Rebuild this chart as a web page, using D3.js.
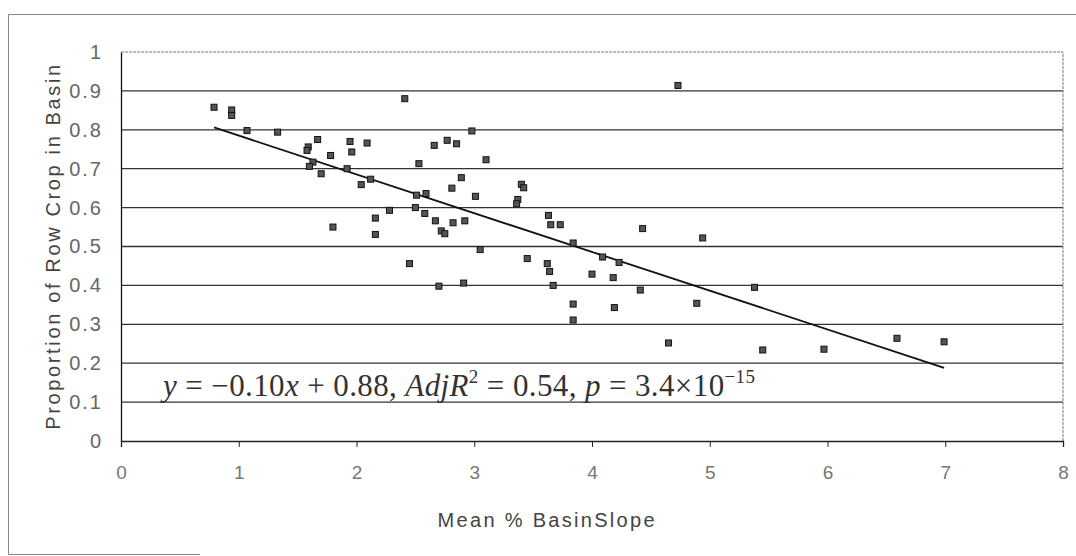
<!DOCTYPE html>
<html>
<head>
<meta charset="utf-8">
<script src="https://cdn.jsdelivr.net/npm/d3@7"></script>
<style>
  body { margin: 0; background: #fff; }
  .tick text { font-family: Arial, "Liberation Sans", sans-serif; }
</style>
</head>
<body>
<div id="graph-container"></div>
<script>
// basin slope vs row crop proportion
var slopeX = [0.79, 0.94, 0.94, 1.07, 1.33, 1.67, 1.59, 1.58, 1.78, 1.63, 1.60, 1.70, 1.92,
  1.945, 2.09, 1.96, 2.66, 2.77, 2.85, 2.53, 3.10, 2.89, 2.04, 2.12, 2.81, 3.40, 3.42,
  3.01, 2.51, 2.59, 3.37, 3.36, 2.28, 2.50, 2.58, 1.80, 2.16, 2.16, 2.67, 2.82, 2.92,
  2.72, 2.75, 3.63, 3.65, 3.73, 3.84, 3.05, 2.45, 3.45, 3.62, 3.64, 2.41, 2.98, 4.73,
  4.43, 4.94, 4.09, 4.23, 4.00, 4.18, 2.91, 3.67, 4.41, 5.38, 3.84, 4.19, 4.89, 3.84,
  4.65, 5.45, 6.59, 6.99, 5.97, 2.70];
var cropY = [0.858, 0.851, 0.837, 0.798, 0.794, 0.775, 0.756, 0.747, 0.734, 0.717, 0.706, 0.687, 0.700,
  0.770, 0.766, 0.743, 0.760, 0.773, 0.764, 0.713, 0.723, 0.677, 0.659, 0.673, 0.650, 0.660, 0.651,
  0.629, 0.632, 0.636, 0.621, 0.610, 0.593, 0.600, 0.585, 0.550, 0.573, 0.531, 0.566, 0.561, 0.566,
  0.540, 0.533, 0.580, 0.556, 0.556, 0.509, 0.492, 0.456, 0.469, 0.456, 0.436, 0.880, 0.797, 0.914,
  0.546, 0.522, 0.473, 0.459, 0.429, 0.420, 0.406, 0.400, 0.388, 0.395, 0.352, 0.343, 0.354, 0.311,
  0.252, 0.234, 0.264, 0.255, 0.236, 0.398];

// fitted line end points
var trendX = [0.79, 6.99];
var trendY = [0.806, 0.188];

var xTicks = [0, 1, 2, 3, 4, 5, 6, 7, 8];
var yTicks = [0, 0.1, 0.2, 0.3, 0.4, 0.5, 0.6, 0.7, 0.8, 0.9, 1];

var svg, x, y, width, height, margin;

function setupConfig() {
  margin = {top: 52, right: 13, bottom: 115, left: 121};
  width = 1076 - margin.left - margin.right;
  height = 556 - margin.top - margin.bottom;

  x = d3.scaleLinear().domain([0, 8]).range([0, width]);
  y = d3.scaleLinear().domain([0, 1]).range([height, 0]);

  var root = d3.select("#graph-container").append("svg")
    .attr("width", 1076)
    .attr("height", 556);

  // outer chart frame
  root.append("path")
    .attr("d", "M1076,14.5 H8.5 V554.5 H200")
    .attr("fill", "none")
    .attr("stroke", "#888")
    .attr("stroke-width", 1);

  svg = root.append("g")
    .attr("transform", "translate(" + margin.left + "," + margin.top + ")");
}

function draw() {
  // horizontal gridlines
  svg.append("g")
    .selectAll("line")
    .data(yTicks.filter(function(d) { return d > 0 && d < 1; }))
    .enter().append("line")
    .attr("x1", 0).attr("x2", width)
    .attr("y1", function(d) { return y(d); })
    .attr("y2", function(d) { return y(d); })
    .attr("stroke", "#333")
    .attr("stroke-width", 1.3);

  // top and right edge of plot area
  svg.append("path")
    .attr("d", "M0," + y(1) + " H" + width + " V" + y(0))
    .attr("fill", "none")
    .attr("stroke", "#777")
    .attr("stroke-width", 1)
    .attr("stroke-dasharray", "3,1");

  // x axis
  var xAxis = svg.append("g")
    .attr("transform", "translate(0," + height + ")")
    .call(d3.axisBottom(x).tickValues(xTicks).tickSize(6).tickPadding(19).tickFormat(d3.format("d")));
  xAxis.select(".domain").attr("stroke", "#222").attr("stroke-width", 1.3);
  xAxis.selectAll(".tick line").attr("stroke", "#222");
  xAxis.selectAll(".tick text").attr("font-size", 19).attr("fill", "#777");

  // y axis
  var yAxis = svg.append("g")
    .call(d3.axisLeft(y).tickValues(yTicks).tickSize(0).tickPadding(18).tickFormat(function(d) { return d3.format("")(d); }));
  yAxis.select(".domain").attr("stroke", "#111").attr("stroke-width", 1.3);
  yAxis.selectAll(".tick text").attr("font-size", 20).attr("fill", "#666")
    .attr("letter-spacing", 2);

  // axis titles
  svg.append("text")
    .attr("x", x(3.61))
    .attr("y", height + 86)
    .attr("text-anchor", "middle")
    .attr("font-family", "Arial, 'Liberation Sans', sans-serif")
    .attr("font-size", 20)
    .attr("fill", "#444")
    .attr("textLength", 217)
    .attr("lengthAdjust", "spacing")
    .text("Mean % BasinSlope");

  svg.append("text")
    .attr("transform", "translate(-61," + y(0.498) + ") rotate(-90)")
    .attr("text-anchor", "middle")
    .attr("font-family", "Arial, 'Liberation Sans', sans-serif")
    .attr("font-size", 20)
    .attr("fill", "#444")
    .attr("textLength", 365)
    .attr("lengthAdjust", "spacing")
    .text("Proportion of Row Crop in Basin");

  // regression line
  var trend = trendX.map(function(d, i) { return {x: d, y: trendY[i]}; });
  svg.append("path")
    .datum(trend)
    .attr("fill", "none")
    .attr("stroke", "#111")
    .attr("stroke-width", 1.8)
    .attr("d", d3.line().x(function(d) { return x(d.x); }).y(function(d) { return y(d.y); }));

  // points
  var pts = slopeX.map(function(d, i) { return {x: d, y: cropY[i]}; });
  svg.append("g")
    .selectAll("rect")
    .data(pts)
    .enter().append("rect")
    .attr("x", function(d) { return x(d.x) - 3; })
    .attr("y", function(d) { return y(d.y) - 3; })
    .attr("width", 6)
    .attr("height", 6)
    .attr("fill", "#555")
    .attr("stroke", "#111")
    .attr("stroke-width", 1);

  // equation
  var eq = svg.append("text")
    .attr("x", 42)
    .attr("y", y(0.115))
    .attr("font-family", "Liberation Serif")
    .attr("font-size", 31)
    .attr("fill", "#333")
    .attr("textLength", 592)
    .attr("lengthAdjust", "spacing");
  eq.append("tspan").attr("font-style", "italic").text("y");
  eq.append("tspan").text(" = \u22120.10");
  eq.append("tspan").attr("font-style", "italic").text("x");
  eq.append("tspan").text(" + 0.88, ");
  eq.append("tspan").attr("font-style", "italic").text("AdjR");
  eq.append("tspan").attr("font-size", 19).attr("dy", -13).text("2");
  eq.append("tspan").attr("dy", 13).text(" = 0.54, ");
  eq.append("tspan").attr("font-style", "italic").text("p");
  eq.append("tspan").text(" = 3.4\u00d710");
  eq.append("tspan").attr("font-size", 19).attr("dy", -13).text("\u221215");
}

setupConfig();
draw();
</script>
</body>
</html>
